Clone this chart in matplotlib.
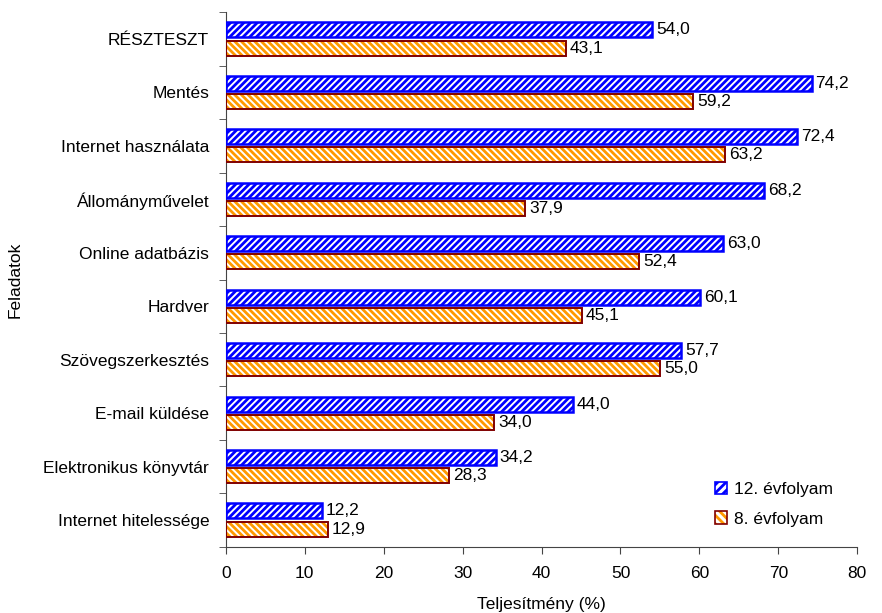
import matplotlib
matplotlib.use("Agg")
import matplotlib.pyplot as plt
import numpy as np
from matplotlib.patches import Patch
from matplotlib.legend_handler import HandlerTuple

plt.rcParams["font.family"] = ["Liberation Sans", "DejaVu Sans"]
plt.rcParams["hatch.linewidth"] = 2.0

categories = [
    "RÉSZTESZT",
    "Mentés",
    "Internet használata",
    "Állományművelet",
    "Online adatbázis",
    "Hardver",
    "Szövegszerkesztés",
    "E-mail küldése",
    "Elektronikus könyvtár",
    "Internet hitelessége",
]
grade12 = [54.0, 74.2, 72.4, 68.2, 63.0, 60.1, 57.7, 44.0, 34.2, 12.2]
grade8 = [43.1, 59.2, 63.2, 37.9, 52.4, 45.1, 55.0, 34.0, 28.3, 12.9]
series_names = ["12. évfolyam", "8. évfolyam"]
x_ticks = [0, 10, 20, 30, 40, 50, 60, 70, 80]

FS = 12.5

fig = plt.figure(figsize=(8.82, 6.13), dpi=100)
ax = fig.add_axes([0.256, 0.108, 0.716, 0.872])

n = len(categories)
pos = np.arange(n)
h = 0.28
off = 0.17

blue = "#0000FF"
orange = "#FF9900"
darkred = "#800000"

# hatched fills
ax.barh(pos - off, grade12, height=h, color="white", edgecolor=blue,
        hatch="/////", linewidth=0, zorder=2)
ax.barh(pos + off, grade8, height=h, color="white", edgecolor=orange,
        hatch="\\\\\\\\\\", linewidth=0, zorder=2)
# outlines
ax.barh(pos - off, grade12, height=h, fill=False, edgecolor=blue,
        linewidth=1.8, zorder=3)
ax.barh(pos + off, grade8, height=h, fill=False, edgecolor=darkred,
        linewidth=1.4, zorder=3)

def fmt(v):
    return f"{v:.1f}".replace(".", ",")

for p, v in zip(pos, grade12):
    ax.text(v + 0.5, p - off, fmt(v), va="center", ha="left", fontsize=FS)
for p, v in zip(pos, grade8):
    ax.text(v + 0.5, p + off, fmt(v), va="center", ha="left", fontsize=FS)

ax.set_ylim(n - 0.5, -0.5)
ax.set_xlim(0, 80)
ax.set_xticks(x_ticks)
ax.set_xticklabels([str(t) for t in x_ticks], fontsize=FS)
ax.set_yticks(pos)
ax.set_yticklabels(categories, fontsize=FS)
ax.tick_params(axis="y", length=0, pad=12)
ax.set_yticks(np.arange(n + 1) - 0.5, minor=True)
ax.tick_params(axis="y", which="minor", length=5, direction="out", color="#444444")
ax.tick_params(axis="x", length=5, direction="out", color="#444444", pad=9)

for s in ["top", "right"]:
    ax.spines[s].set_visible(False)
ax.spines["left"].set_color("#444444")
ax.spines["bottom"].set_color("#444444")

ax.set_xlabel("Teljesítmény (%)", fontsize=FS, labelpad=11)
ax.set_ylabel("Feladatok", fontsize=FS)
ax.yaxis.set_label_coords(-0.322, 0.5)

h12 = (Patch(facecolor="white", edgecolor=blue, hatch="////", linewidth=0),
       Patch(fill=False, edgecolor=blue, linewidth=1.2))
h8 = (Patch(facecolor="white", edgecolor=orange, hatch="\\\\\\\\", linewidth=0),
      Patch(fill=False, edgecolor=darkred, linewidth=1.2))
leg = ax.legend([h12, h8], series_names, loc="upper left",
                bbox_to_anchor=(0.775, 0.122), frameon=False, fontsize=FS,
                handlelength=0.7, handleheight=0.7, handletextpad=0.4,
                labelspacing=0.85, borderpad=0, borderaxespad=0,
                handler_map={tuple: HandlerTuple(ndivide=1, pad=0)})

fig.savefig("out.png", dpi=100)
